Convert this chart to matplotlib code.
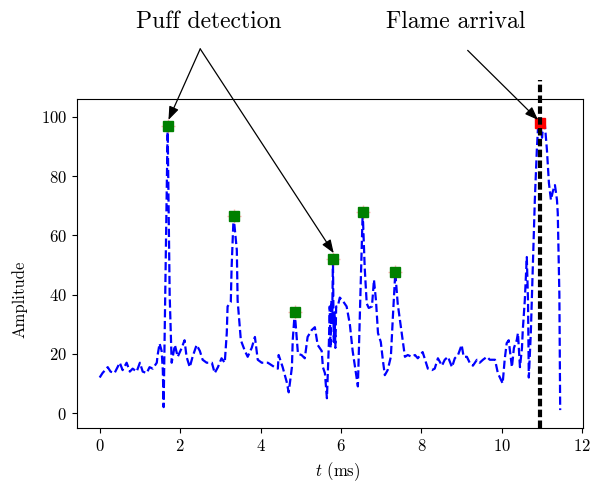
import matplotlib
matplotlib.use('Agg')
import matplotlib.pyplot as plt

plt.rcParams['font.family'] = 'serif'
plt.rcParams['font.serif'] = ['cmr10']
plt.rcParams['mathtext.fontset'] = 'cm'
plt.rcParams['axes.formatter.use_mathtext'] = True
plt.rcParams['axes.unicode_minus'] = False

# signal (time in ms, amplitude)
t = [0.00, 0.07, 0.20, 0.27, 0.37, 0.50, 0.57, 0.67, 0.75, 0.82, 0.92, 1.00, 1.07, 1.17,
     1.24, 1.32, 1.42, 1.44, 1.49, 1.54, 1.57, 1.59, 1.69, 1.74, 1.79, 1.87, 1.94, 2.04,
     2.11, 2.16, 2.24, 2.31, 2.41, 2.49, 2.56, 2.66, 2.79, 2.86, 2.94, 3.03, 3.11, 3.16,
     3.18, 3.26, 3.28, 3.33, 3.41, 3.43, 3.51, 3.61, 3.68, 3.78, 3.86, 3.93, 4.03, 4.18,
     4.35, 4.43, 4.45, 4.55, 4.65, 4.70, 4.78, 4.80, 4.85, 4.93, 5.02, 5.10, 5.17, 5.27,
     5.35, 5.42, 5.52, 5.55, 5.60, 5.65, 5.70, 5.72, 5.74, 5.76, 5.78, 5.80, 5.82, 5.84,
     5.86, 5.88, 5.92, 5.97, 6.04, 6.14, 6.22, 6.29, 6.37, 6.42, 6.49, 6.54, 6.59, 6.64,
     6.69, 6.77, 6.82, 6.87, 6.92, 6.99, 7.04, 7.09, 7.16, 7.24, 7.29, 7.35, 7.41, 7.51,
     7.59, 7.66, 7.76, 7.84, 7.91, 8.03, 8.08, 8.16, 8.26, 8.33, 8.41, 8.51, 8.58, 8.66,
     8.76, 8.83, 8.91, 9.00, 9.05, 9.13, 9.20, 9.28, 9.38, 9.45, 9.53, 9.63, 9.70, 9.83,
     9.90, 10.02, 10.07, 10.12, 10.17, 10.25, 10.30, 10.37, 10.40, 10.45, 10.50, 10.52,
     10.57, 10.62, 10.65, 10.67, 10.72, 10.77, 10.82, 10.87, 10.90, 10.95, 11.00, 11.02,
     11.07, 11.12, 11.17, 11.22, 11.27, 11.32, 11.37, 11.39, 11.43, 11.45]
amp = [12, 13.5, 15.5, 14, 13.5, 17, 14.5, 17, 14, 15, 14, 17, 14, 13.5,
       15.5, 15, 17, 19.5, 23.5, 21, 14.5, 2, 97, 40, 17, 23, 19, 22,
       24.6, 19, 15.5, 19, 23, 21, 18, 17, 17, 13.5, 15.5, 18.5, 17, 27,
       36, 37.5, 49, 66.5, 55, 38, 24.6, 21, 19, 22, 25.7, 18, 17, 17,
       15.5, 15, 19.6, 15.5, 10.5, 7, 15.5, 24.6, 34, 20, 19.6, 18.5, 25.7, 28,
       29, 23, 21, 15.5, 13.5, 5, 24, 36, 22, 38, 30, 52, 24, 34,
       22, 36, 36, 39, 38, 36, 30, 21, 13.5, 9, 44, 68, 49, 37,
       35.5, 36, 45, 38, 27, 24, 18, 12.8, 14.5, 19, 32.4, 47.5, 37, 27,
       19, 19.6, 19, 19.6, 18.5, 20.6, 18.5, 15, 14.5, 15, 18.5, 16, 18, 19,
       15.5, 18.5, 19.6, 23, 19, 19, 17, 16, 18, 17, 18, 19, 18, 18,
       13.5, 10, 18, 23.6, 24.6, 15.5, 22, 24.6, 27, 15.5, 22, 28,
       38, 52.7, 38, 12, 27, 49, 72, 89, 96.6, 98, 93, 96.6,
       97.3, 89, 77.7, 72, 75, 77, 72, 67.5, 40, 1]

# detected puffs and flame arrival
puff_t = [1.69, 3.33, 4.85, 5.80, 6.54, 7.35]
puff_amp = [97, 66.5, 34, 52, 68, 47.5]
flame_t = 10.95
flame_amp = 98

fig = plt.figure(figsize=(5.95, 4.84), dpi=100)
ax = fig.add_subplot(111)
fig.subplots_adjust(left=0.129, right=0.980, top=0.795, bottom=0.116)

ax.plot(t, amp, 'b--', lw=1.6)
ax.plot(puff_t, puff_amp, '+', color='red', alpha=0.3, ms=10)
ax.plot(puff_t, puff_amp, 's', color='green', ms=7)
ax.plot([flame_t], [flame_amp], 's', color='red', ms=7)
ax.axvline(flame_t, ymin=0, ymax=1.058, clip_on=False, color='k',
           ls=(0, (1.8, 0.8)), lw=3)

ax.set_xlim(-0.57, 12.02)
ax.set_ylim(-5, 106)
ax.set_xticks([0, 2, 4, 6, 8, 10, 12])
ax.set_yticks([0, 20, 40, 60, 80, 100])
ax.tick_params(labelsize=12)
ax.set_xlabel('$t$ (ms)', fontsize=12)
ax.set_ylabel('Amplitude', fontsize=12)
ax.xaxis.set_label_coords(0.516, -0.10)
ax.yaxis.set_label_coords(-0.098, 0.39)

# annotations
arrow = dict(arrowstyle='-|>,head_length=0.8,head_width=0.3',
             color='k', lw=0.9, shrinkA=0, shrinkB=0)
ax.text(2.7, 132, 'Puff detection', fontsize=17, ha='center', va='center')
for i in [0, 3]:
    ax.annotate('', xy=(puff_t[i] + 0.02, puff_amp[i] + 2), xytext=(2.5, 123),
                arrowprops=arrow, annotation_clip=False)
ax.text(8.85, 132, 'Flame arrival', fontsize=17, ha='center', va='center')
ax.annotate('', xy=(flame_t - 0.05, flame_amp + 1), xytext=(9.15, 122.5),
            arrowprops=arrow, annotation_clip=False)

fig.savefig('out.png', dpi=100)
